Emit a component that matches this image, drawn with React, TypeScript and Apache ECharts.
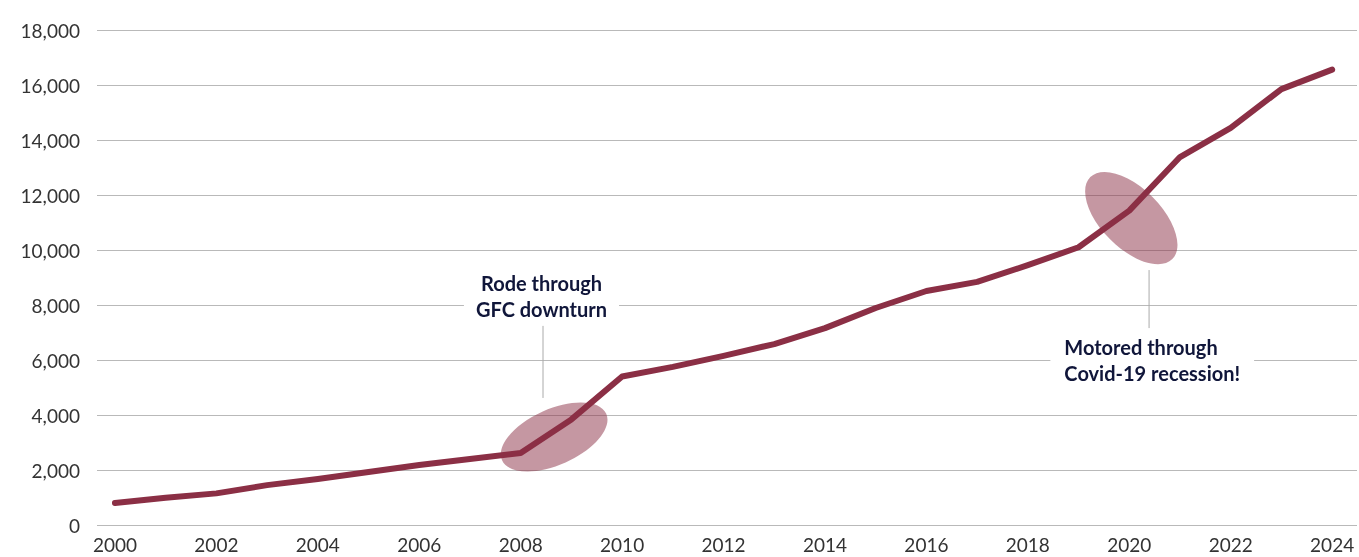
import React, { useEffect, useRef } from "react";
import * as echarts from "echarts";

const years: number[] = [2000, 2001, 2002, 2003, 2004, 2005, 2006, 2007, 2008, 2009, 2010, 2011, 2012, 2013, 2014, 2015, 2016, 2017, 2018, 2019, 2020, 2021, 2022, 2023, 2024];
const values: number[] = [800, 990, 1150, 1450, 1670, 1930, 2180, 2400, 2620, 3840, 5400, 5750, 6150, 6580, 7160, 7890, 8510, 8840, 9450, 10100, 11430, 13380, 14440, 15850, 16560];
const xLabels: number[] = [2000, 2002, 2004, 2006, 2008, 2010, 2012, 2014, 2016, 2018, 2020, 2022, 2024];
const gfcText: string[] = ["Rode through", "GFC downturn"];
const covidText: string[] = ["Motored through", "Covid-19 recession!"];

const FONT = "Lato, 'Noto Sans', sans-serif";
const LINE = "#8b2f45";

export default function App() {
  const ref = useRef<HTMLDivElement>(null);
  useEffect(() => {
    if (!ref.current) return;
    const chart = echarts.init(ref.current, undefined, { renderer: "svg" });
    chart.setOption({
      animation: false,
      grid: { left: 97, right: 2, top: 30, bottom: 32 },
      xAxis: {
        type: "value",
        min: 1999.646,
        max: 2024.49,
        axisLine: { show: false },
        axisTick: { show: false },
        splitLine: { show: false },
        axisLabel: {
          customValues: xLabels,
          formatter: (v: number) => String(Math.round(v)),
          color: "#333",
          fontSize: 19,
          fontFamily: FONT,
          margin: 10,
        },
      },
      yAxis: {
        type: "value",
        min: 0,
        max: 18000,
        interval: 2000,
        axisLine: { show: false },
        axisTick: { show: false },
        splitLine: { lineStyle: { color: "#b9b9b9", width: 1 } },
        axisLabel: {
          formatter: (v: number) => v.toLocaleString("en-US"),
          color: "#333",
          fontSize: 19,
          fontFamily: FONT,
          margin: 17,
        },
      },
      series: [
        {
          type: "line",
          data: years.map((y, i) => [y, values[i]]),
          showSymbol: false,
          lineStyle: { color: LINE, width: 6, cap: "round", join: "round" },
          z: 3,
        },
      ],
    });

    const px = (x: number, y: number) => chart.convertToPixel({ gridIndex: 0 }, [x, y]) as number[];
    const gE = px(2008.66, 3200);
    const gL1 = px(2008.44, 7240);
    const gL2 = px(2008.44, 4620);
    const gT = px(2008.41, 8330);
    const cE = px(2020.04, 11160);
    const cL1 = px(2020.39, 9270);
    const cL2 = px(2020.39, 7160);
    const cT = px(2018.72, 6000);

    const textStyle = {
      fill: "#10163a",
      fontSize: 20,
      fontWeight: "bold",
      fontFamily: FONT,
      lineHeight: 26,
      backgroundColor: "#fff",
    };

    chart.setOption({
      graphic: [
        {
          type: "line",
          z: 5,
          shape: { x1: gL1[0], y1: gL1[1], x2: gL2[0], y2: gL2[1] },
          style: { stroke: "#aaa", lineWidth: 1 },
        },
        {
          type: "line",
          z: 5,
          shape: { x1: cL1[0], y1: cL1[1], x2: cL2[0], y2: cL2[1] },
          style: { stroke: "#aaa", lineWidth: 1 },
        },
        {
          type: "ellipse",
          z: 10,
          x: gE[0],
          y: gE[1],
          rotation: (24 * Math.PI) / 180,
          shape: { cx: 0, cy: 0, rx: 57, ry: 28 },
          style: { fill: "rgba(139,47,69,0.5)" },
        },
        {
          type: "ellipse",
          z: 10,
          x: cE[0],
          y: cE[1],
          rotation: (-45 * Math.PI) / 180,
          shape: { cx: 0, cy: 0, rx: 58, ry: 30 },
          style: { fill: "rgba(139,47,69,0.5)" },
        },
        {
          type: "text",
          z: 10,
          x: gT[0],
          y: gT[1],
          style: {
            ...textStyle,
            text: gfcText.join("\n"),
            align: "center",
            verticalAlign: "middle",
            padding: [0, 12],
          },
        },
        {
          type: "text",
          z: 10,
          x: cT[0] - 14,
          y: cT[1],
          style: {
            ...textStyle,
            text: covidText.join("\n"),
            align: "left",
            verticalAlign: "middle",
            padding: [0, 14],
          },
        },
      ],
    });

    return () => chart.dispose();
  }, []);
  return <div ref={ref} style={{ position: "fixed", left: 0, top: 0, width: 1359, height: 557 }} />;
}
